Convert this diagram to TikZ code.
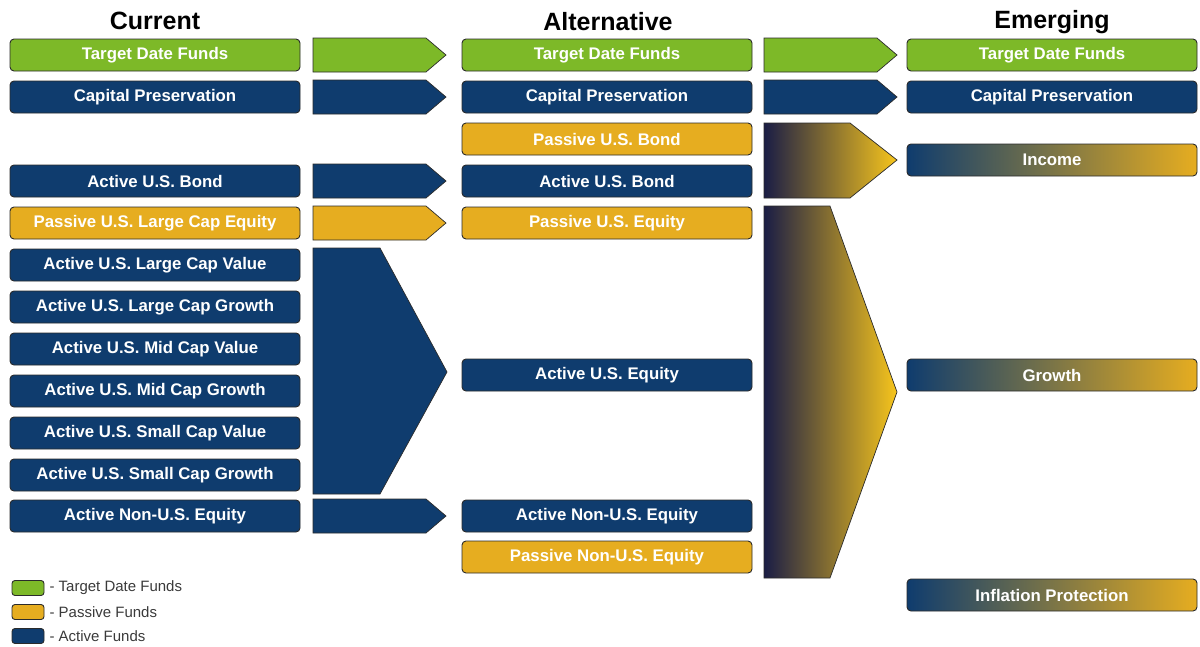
\documentclass[tikz,border=0pt]{standalone}
\usepackage{fontspec}
\setmainfont{Liberation Sans}
\usetikzlibrary{positioning}

\definecolor{tdgreen}{HTML}{7DB928}
\definecolor{actblue}{HTML}{0F3C6E}
\definecolor{pasgold}{HTML}{E6AD20}
\definecolor{darknavy}{HTML}{1A1D45}
\definecolor{midbrown}{HTML}{A88438}
\definecolor{brightgold}{HTML}{F7C51C}
\definecolor{blendmid}{HTML}{8A7468}
\definecolor{edgegray}{HTML}{2B2B2B}
\definecolor{keytext}{HTML}{3A3A3A}

\tikzset{
  fund/.style={draw=edgegray, line width=0.9pt, rounded corners=4pt,
    minimum width=290pt, minimum height=32pt, inner sep=0pt,
    text=white, font=\bfseries\fontsize{16.8}{18}\selectfont},
  tdf/.style={fund, fill=tdgreen},
  active/.style={fund, fill=actblue},
  passive/.style={fund, fill=pasgold},
  blend/.style={fund, left color=actblue, middle color=blendmid, right color=pasgold},
  flow/.style={draw=edgegray, line width=0.7pt},
  fade/.style={flow, left color=darknavy, middle color=midbrown, right color=brightgold},
  heading/.style={font=\bfseries\fontsize{25}{28}\selectfont},
  keybox/.style={draw=edgegray, line width=0.9pt, rounded corners=3pt,
    minimum width=32pt, minimum height=15pt, inner sep=0pt},
  keylabel/.style={anchor=west, text=keytext, font=\fontsize{15}{17}\selectfont}
}

\begin{document}
\begin{tikzpicture}[x=1pt, y=-1pt]
      \useasboundingbox (0,0) rectangle (1200,646);
      % Column headings
      \node[heading] (hcur) at (155,21) {Current};
      \node[heading] (halt) at (608,22) {Alternative};
      \node[heading] (hemg) at (1052,22) {Emerging};
      % Current line-up
      \foreach \n/\y/\s/\t in {c1/55/tdf/Target Date Funds,
          c2/97/active/Capital Preservation,
          c3/181/active/Active U.S. Bond,
          c4/223/passive/Passive U.S. Large Cap Equity,
          c5/265/active/Active U.S. Large Cap Value,
          c6/307/active/Active U.S. Large Cap Growth,
          c7/349/active/Active U.S. Mid Cap Value,
          c8/391/active/Active U.S. Mid Cap Growth,
          c9/433/active/Active U.S. Small Cap Value,
          c10/475/active/Active U.S. Small Cap Growth,
          c11/516/active/Active Non-U.S. Equity} {
        \node[\s] (\n) at (155,\y) {\t};
      }
      % Alternative line-up
      \foreach \n/\y/\s/\t in {a1/55/tdf/Target Date Funds,
          a2/97/active/Capital Preservation,
          a3/139/passive/Passive U.S. Bond,
          a4/181/active/Active U.S. Bond,
          a5/223/passive/Passive U.S. Equity,
          a6/375/active/Active U.S. Equity,
          a7/516/active/Active Non-U.S. Equity,
          a8/557/passive/Passive Non-U.S. Equity} {
        \node[\s] (\n) at (607,\y) {\t};
      }
      % Emerging line-up
      \foreach \n/\y/\s/\t in {e1/55/tdf/Target Date Funds,
          e2/97/active/Capital Preservation,
          e3/160/blend/Income,
          e4/375/blend/Growth,
          e5/595/blend/Inflation Protection} {
        \node[\s] (\n) at (1052,\y) {\t};
      }
      % One-to-one arrows, current to alternative
      \foreach \y/\c in {55/tdgreen, 97/actblue, 181/actblue, 223/pasgold, 516/actblue} {
        \draw[flow, fill=\c] (313,{\y-17}) -- (426,{\y-17}) -- (446,\y)
          -- (426,{\y+17}) -- (313,{\y+17}) -- cycle;
      }
      % Six active equity funds merge into one
      \draw[flow, fill=actblue] (313,248) -- (380,248) -- (447,372)
        -- (380,494) -- (313,494) -- cycle;
      % One-to-one arrows, alternative to emerging
      \foreach \y/\c in {55/tdgreen, 97/actblue} {
        \draw[flow, fill=\c] (764,{\y-17}) -- (877,{\y-17}) -- (897,\y)
          -- (877,{\y+17}) -- (764,{\y+17}) -- cycle;
      }
      % Blended arrows into the emerging categories
      \path[fade] (764,123) -- (850,123) -- (897,160) -- (850,198) -- (764,198) -- cycle;
      \path[fade] (764,206) -- (830,206) -- (897,392) -- (830,578) -- (764,578) -- cycle;
      % Legend
      \foreach \n/\y/\s/\t in {k1/588/tdf/Target Date Funds,
          k2/612/passive/Passive Funds,
          k3/636/active/Active Funds} {
        \node[keybox, \s, minimum width=32pt, minimum height=15pt, rounded corners=3pt] (\n) at (28,\y) {};
        \node[keylabel] (\n t) at (46,\y) {- \t};
      }
\end{tikzpicture}
\end{document}
